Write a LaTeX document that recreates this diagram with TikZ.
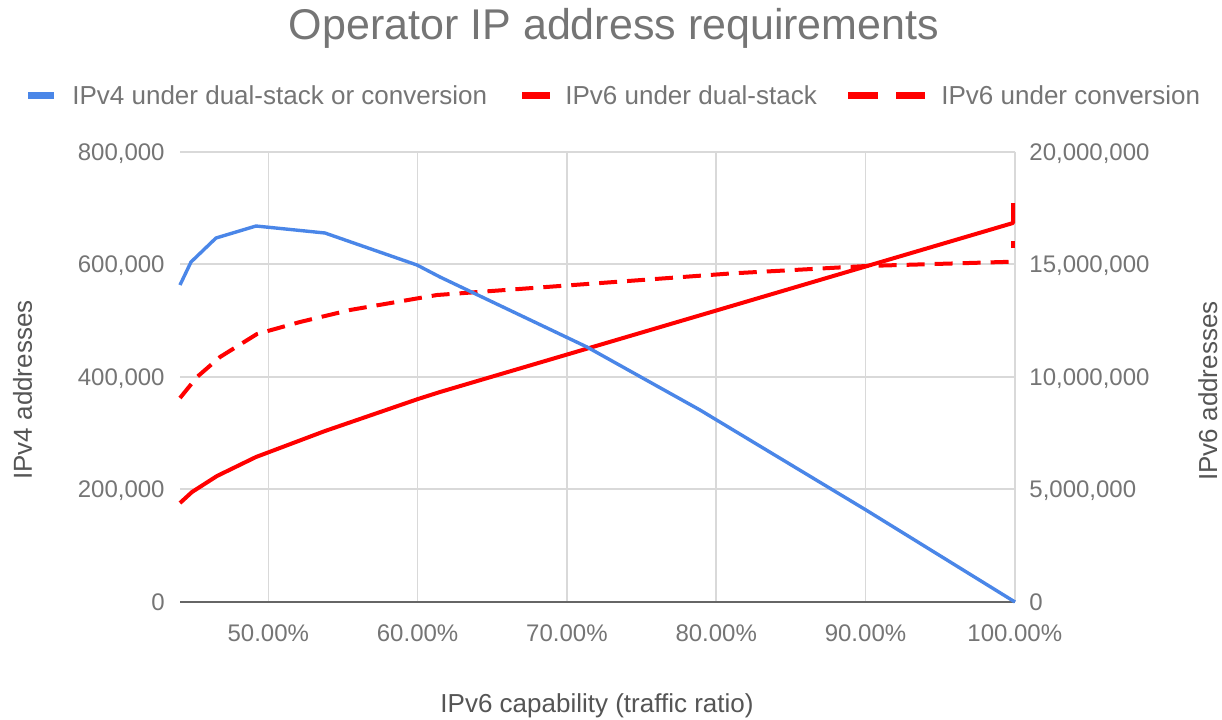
\documentclass[tikz,border=0pt]{standalone}
\usepackage{fontspec}
\setmainfont{Liberation Sans}

\definecolor{ipfour}{HTML}{4A86E8}
\definecolor{ipsix}{HTML}{FF0000}
\definecolor{labelgray}{HTML}{757575}
\definecolor{titlegray}{HTML}{555555}
\definecolor{gridgray}{HTML}{D9D9D9}
\definecolor{axisgray}{HTML}{666666}

\tikzset{
  gridline/.style={gridgray,line width=0.8pt},
  zeroline/.style={axisgray,line width=1pt},
  ticklabel/.style={text=labelgray,font=\fontsize{12}{14}\selectfont,inner sep=0pt},
  axistitle/.style={text=titlegray,font=\fontsize{13}{15}\selectfont,inner sep=0pt},
  legendtext/.style={text=labelgray,font=\fontsize{13}{15}\selectfont,inner sep=0pt,anchor=west},
  ipvfour/.style={ipfour,line width=1.7pt,line join=round},
  ipvsixdual/.style={ipsix,line width=2pt,line join=round},
  ipvsixconv/.style={ipsix,line width=2pt,dash pattern=on 9pt off 5pt},
}

\begin{document}
\begin{tikzpicture}[x=0.5pt,y=-0.5pt]
	\fill[white] (0,0) rectangle (1222,719);
	\useasboundingbox (0,0) rectangle (1222,719);

	% title and legend
	\node[text=labelgray,font=\fontsize{21.5}{24}\selectfont,inner sep=0pt,anchor=base] (title) at (614,39) {Operator IP address requirements};

	\fill[ipfour] (28,91.5) rectangle (54,98.5);
	\node[legendtext] (legfour) at (72,95) {IPv4 under dual-stack or conversion};
	\fill[ipsix] (522,91.5) rectangle (550,98.5);
	\node[legendtext] (legdual) at (565,95) {IPv6 under dual-stack};
	\fill[ipsix] (848,91.5) rectangle (878,98.5);
	\fill[ipsix] (896,91.5) rectangle (925,98.5);
	\node[legendtext] (legconv) at (941,95) {IPv6 under conversion};

	% horizontal grid with both scales
	\foreach \y/\lv/\rv [count=\i] in {601.7/0/0, 489.2/{200,000}/{5,000,000}, 376.7/{400,000}/{10,000,000}, 264.2/{600,000}/{15,000,000}, 151.7/{800,000}/{20,000,000}} {
		\ifnum\i>1 \draw[gridline] (180,\y) -- (1015,\y); \fi
		\node[ticklabel,anchor=base east] (ltick\i) at (165,\y+8.5) {\lv};
		\node[ticklabel,anchor=base west] (rtick\i) at (1029,\y+8.5) {\rv};
	}

	% vertical grid and percentages
	\foreach \x/\p in {268.3/50, 417.6/60, 566.9/70, 716.2/80, 865.5/90, 1014.8/100} {
		\draw[gridline] (\x,151.7) -- (\x,601.7);
		\node[ticklabel,anchor=base] (xtick\p) at (\x,641.6) {\p.00\%};
	}
	\draw[zeroline] (180,601.7) -- (1015,601.7);

	% axis titles
	\node[axistitle,anchor=base,rotate=90] (ylefttitle) at (32,390) {IPv4 addresses};
	\node[axistitle,anchor=base,rotate=90] (yrighttitle) at (1217,391) {IPv6 addresses};
	\node[axistitle,anchor=base] (xtitle) at (597,712) {IPv6 capability (traffic ratio)};

	% series
	\draw[ipvsixconv] (180,398) -- (197,377) -- (220,357) -- (257,334) -- (300,322) -- (350,310)
		-- (437,295) -- (587,284) -- (730,273.5) -- (866,266) -- (1013,261.7);
	\draw[ipsix,line width=2pt] (1013,248) -- (1013,241);
	\draw[ipvsixdual] (180,503) -- (192,492) -- (217,476) -- (256,457) -- (325,431) -- (418,399)
		-- (440,392) -- (1013,223) -- (1013,203);
	\draw[ipvfour] (180,285) -- (191,262) -- (216,238) -- (256,226) -- (325,233) -- (417,265)
		-- (440,277) -- (587,347) -- (700,410) -- (866,510) -- (1015,602);
\end{tikzpicture}
\end{document}
